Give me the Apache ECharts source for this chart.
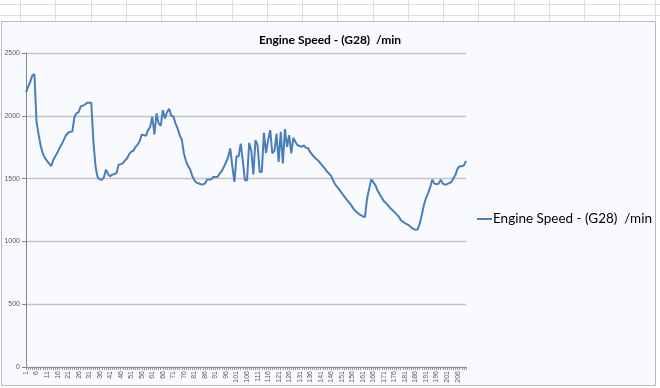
<!DOCTYPE html>
<html>
<head>
<meta charset="utf-8">
<script src="https://cdn.jsdelivr.net/npm/echarts@6/dist/echarts.min.js"></script>
<style>
html,body{margin:0;padding:0;background:#fff;}
#chart{width:660px;height:388px;}
</style>
</head>
<body>
<div id="chart"></div>
<script>
var seriesName = 'Engine Speed - (G28)  /min';
var titleText = 'Engine Speed - (G28)  /min';
var categoryCount = 210;
var categories = Array.from({length: categoryCount}, function (_, i) { return String(i + 1); });
var yTicks = [0, 500, 1000, 1500, 2000, 2500];

var engineSpeed = [
  2187, 2230, 2270, 2320, 2333, 1950, 1850, 1760, 1700, 1665,
  1640, 1620, 1600, 1650, 1680, 1710, 1745, 1775, 1810, 1845,
  1865, 1872, 1875, 1990, 2020, 2030, 2075, 2080, 2090, 2104,
  2104, 2104, 1800, 1600, 1510, 1495, 1490, 1510, 1572, 1535,
  1518, 1532, 1535, 1545, 1610, 1615, 1622, 1645, 1660, 1695,
  1715, 1722, 1752, 1770, 1800, 1850, 1848, 1840, 1886, 1912,
  1992, 1851, 2019, 1939, 1920, 2045, 1979, 2030, 2055, 2000,
  1995, 1940, 1900, 1846, 1810, 1700, 1640, 1600, 1572, 1520,
  1486, 1468, 1462, 1455, 1454, 1460, 1492, 1492, 1494, 1513,
  1513, 1515, 1540, 1560, 1593, 1630, 1670, 1740, 1600, 1473,
  1678, 1678, 1779, 1640, 1486, 1486, 1784, 1726, 1534, 1806,
  1766, 1553, 1553, 1864, 1704, 1806, 1886, 1700, 1720, 1859,
  1633, 1872, 1620, 1894, 1752, 1846, 1700, 1824, 1792, 1766,
  1760, 1752, 1765, 1745, 1742, 1710, 1690, 1670, 1655, 1640,
  1620, 1600, 1580, 1555, 1540, 1520, 1480, 1450, 1430, 1408,
  1385, 1362, 1340, 1318, 1300, 1275, 1250, 1235, 1220, 1210,
  1200, 1193, 1340, 1420, 1494, 1470, 1446, 1405, 1375, 1348,
  1320, 1305, 1287, 1265, 1250, 1233, 1215, 1199, 1170, 1158,
  1145, 1135, 1127, 1110, 1100, 1092, 1095, 1140, 1210, 1290,
  1345, 1385, 1433, 1492, 1460, 1455, 1460, 1492, 1460, 1452,
  1455, 1465, 1473, 1500, 1530, 1580, 1598, 1598, 1605, 1641
];

var chart = echarts.init(document.getElementById('chart'), null, {renderer: 'canvas'});

// spreadsheet decoration behind the chart
var deco = [];
deco.push({type: 'rect', shape: {x: 0, y: 0, width: 660, height: 388}, style: {fill: '#ffffff'}, z: -100, silent: true});
for (var k = 0; k < 19; k++) {
  var xx = 20.5 + Math.round(k * 35.25);
  deco.push({type: 'line', shape: {x1: xx, y1: 0, x2: xx, y2: 22}, style: {stroke: '#dadce6', lineWidth: 1}, z: -99, silent: true});
}
[4.5, 15.5].forEach(function (yy) {
  deco.push({type: 'line', shape: {x1: 0, y1: yy, x2: 660, y2: yy}, style: {stroke: '#dadce6', lineWidth: 1}, z: -99, silent: true});
});
deco.push({type: 'rect', shape: {x: 1.5, y: 21.5, width: 654, height: 364}, style: {fill: '#f9fafd', stroke: '#b7bcc6', lineWidth: 1}, z: -98, silent: true});

chart.setOption({
  animation: false,
  backgroundColor: '#ffffff',
  graphic: {elements: deco},
  title: {
    text: titleText,
    left: 'center',
    top: 29,
    textStyle: {fontFamily: 'Lato', fontSize: 12, fontWeight: 'bold', color: '#000000'}
  },
  legend: {
    left: 472,
    top: 207,
    orient: 'vertical',
    icon: 'rect',
    itemWidth: 15,
    itemHeight: 2,
    itemGap: 0,
    textStyle: {fontFamily: 'Lato', fontSize: 13.5, color: '#000000', padding: [0, 0, 0, -4]},
    data: [seriesName]
  },
  grid: {left: 26, right: 194, top: 53, bottom: 21, containLabel: false},
  xAxis: {
    type: 'category',
    data: categories,
    boundaryGap: false,
    axisLine: {show: true, lineStyle: {color: '#868686', width: 1}},
    axisTick: {show: true, interval: 0, length: 3, lineStyle: {color: '#9a9a9a', width: 1}},
    axisLabel: {interval: 4, rotate: 90, fontSize: 7, color: '#595959', margin: 4, fontFamily: 'Liberation Sans'},
    splitLine: {show: false}
  },
  yAxis: {
    type: 'value',
    min: yTicks[0],
    max: yTicks[yTicks.length - 1],
    interval: 500,
    axisLine: {show: true, lineStyle: {color: '#868686', width: 1}},
    axisTick: {show: true, length: 4, lineStyle: {color: '#868686'}},
    axisLabel: {
      fontSize: 7, color: '#595959', margin: 6, fontFamily: 'Liberation Sans',
      formatter: function (v) { return String(v); }
    },
    splitLine: {show: true, lineStyle: {color: '#c3c3c3', width: 1.3}}
  },
  series: [{
    name: seriesName,
    type: 'line',
    data: engineSpeed,
    showSymbol: false,
    symbol: 'none',
    lineStyle: {color: '#4a7ebb', width: 2},
    itemStyle: {color: '#4a7ebb'}
  }]
});
</script>
</body>
</html>
